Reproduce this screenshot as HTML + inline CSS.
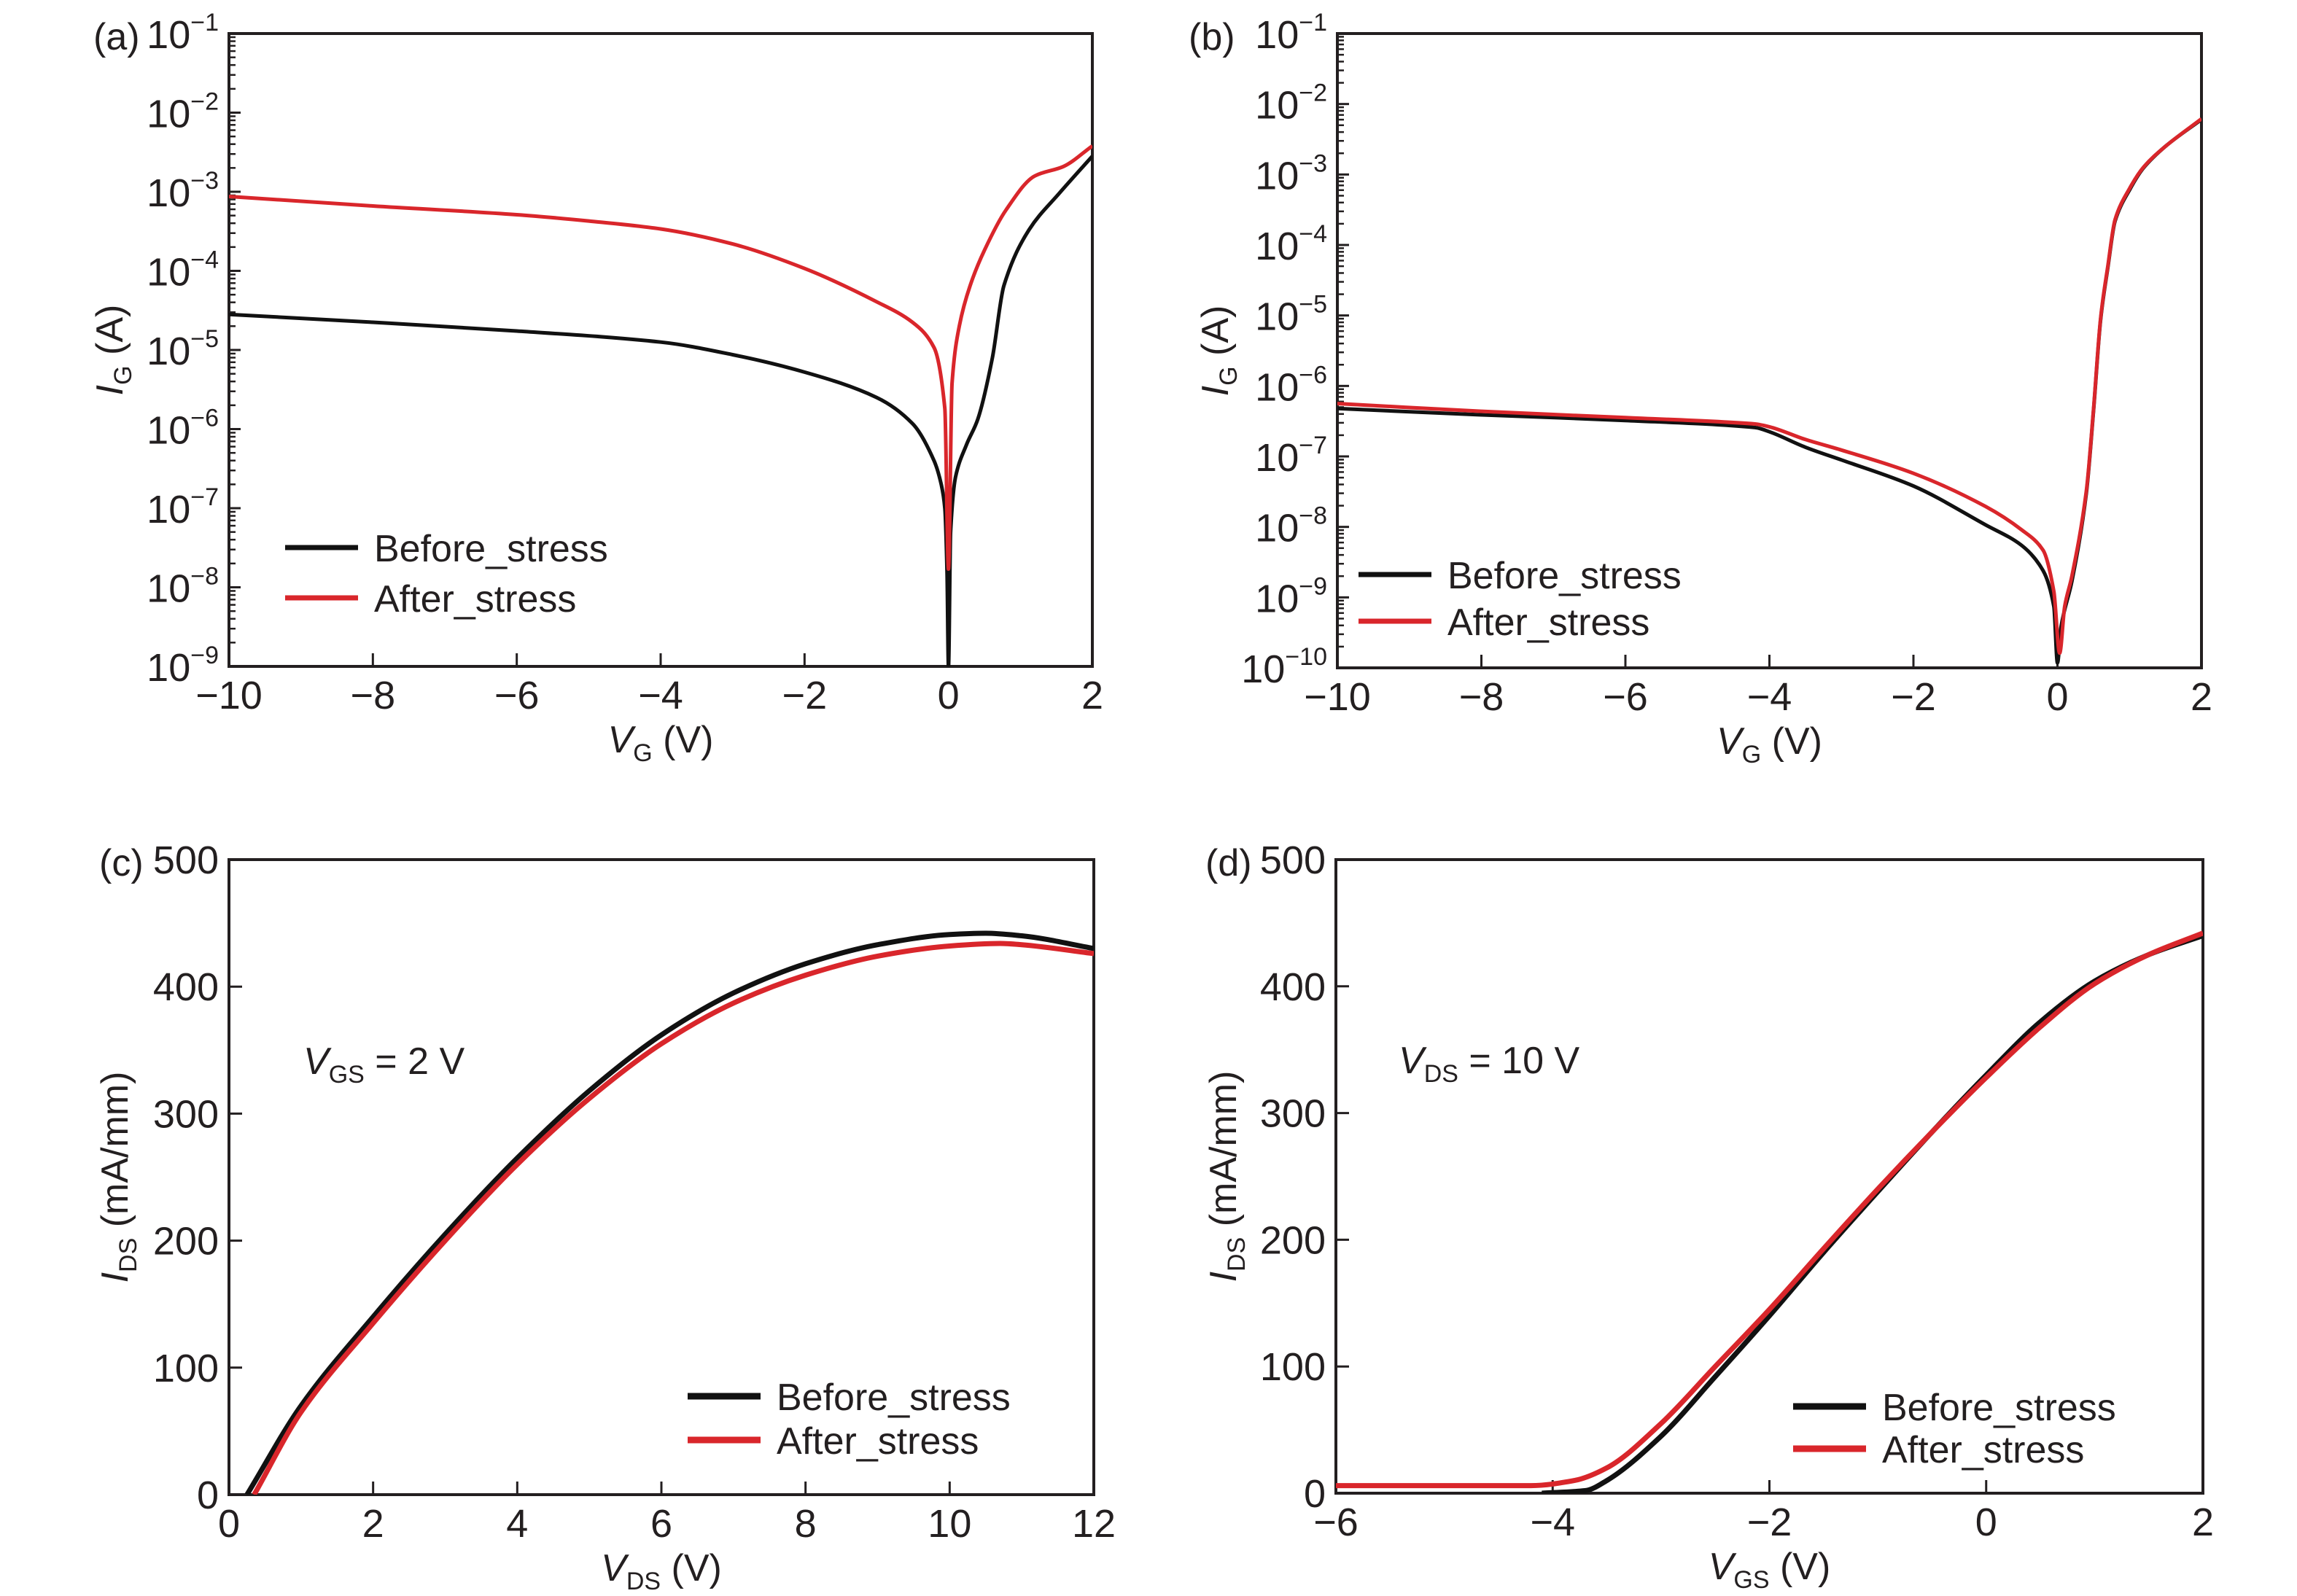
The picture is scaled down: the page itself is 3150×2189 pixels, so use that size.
<!DOCTYPE html>
<html><head><meta charset="utf-8"><title>Gate leakage and transfer/output characteristics</title>
<style>
html,body{margin:0;padding:0;background:#fff;}
svg{display:block;}
text{font-family:"Liberation Sans",sans-serif;fill:#231f20;}
</style></head>
<body>
<svg id="fig" width="3150" height="2189" viewBox="0 0 3150 2189" xmlns="http://www.w3.org/2000/svg"></svg>
<script>
// ---- Panel (a) data: gate current (log10 A) vs VG ----
const aBeforeX = [-10,-8,-6,-4,-3,-2,-1,-0.5,-0.2,-0.1,-0.05,-0.02,0,0.03,0.1,0.25,0.41,0.61,0.77,1.12,1.53,2];
const aBeforeY = [-4.55,-4.65,-4.76,-4.9,-5.06,-5.28,-5.6,-5.93,-6.4,-6.7,-7.0,-7.8,-9,-7.3,-6.6,-6.2,-5.87,-5.1,-4.19,-3.48,-3.03,-2.55];
const aAfterX = [-10,-8,-6,-5,-4,-3,-2,-1,-0.5,-0.2,-0.05,0,0.05,0.15,0.3,0.5,0.8,1.2,1.6,2];
const aAfterY = [-3.06,-3.18,-3.29,-3.37,-3.47,-3.66,-3.97,-4.39,-4.65,-4.97,-5.74,-7.77,-5.42,-4.7,-4.19,-3.74,-3.23,-2.8,-2.68,-2.42];
// ---- Panel (b) data ----
const bBeforeX = [-10,-8,-6,-4.2,-4,-3.5,-3,-2,-1,-0.5,-0.2,-0.05,0,0.05,0.2,0.4,0.5,0.6,0.7,0.8,1,1.2,1.5,2];
const bBeforeY = [-6.32,-6.41,-6.49,-6.59,-6.65,-6.87,-7.05,-7.42,-7.97,-8.26,-8.62,-9.13,-9.93,-9.42,-8.77,-7.53,-6.36,-5.05,-4.32,-3.66,-3.22,-2.9,-2.6,-2.22];
const bAfterX = [-10,-8,-6,-4.2,-4,-3.5,-3,-2,-1,-0.5,-0.2,-0.05,0.03,0.1,0.2,0.4,0.5,0.6,0.7,0.8,1,1.2,1.5,2];
const bAfterY = [-6.25,-6.36,-6.45,-6.54,-6.58,-6.76,-6.91,-7.24,-7.71,-8.04,-8.33,-8.92,-9.79,-9.13,-8.7,-7.5,-6.34,-5.03,-4.3,-3.64,-3.2,-2.89,-2.6,-2.21];
// ---- Panel (c) data: IDS (mA/mm) vs VDS ----
const cBeforeX = [0.25,1,2,3,4,5,6,7,8,9,10,10.5,11,12];
const cBeforeY = [0,70,140,205,265,318,362,395,418,433,441,442,440,430];
const cAfterX = [0.35,1,2,3,4,5,6,7,8,9,10,10.7,11,12];
const cAfterY = [0,65,135,200,260,312,355,387,409,424,432,434,433,426];
// ---- Panel (d) data: IDS vs VGS ----
const dBeforeX = [-4.1,-3.7,-3.5,-3,-2.5,-2,-1.5,-1,-0.5,0,0.5,1,1.5,2];
const dBeforeY = [0,2,10,45,92,140,190,238,285,330,372,404,425,440];
const dAfterX = [-6,-4.2,-3.8,-3.5,-3,-2.5,-2,-1.5,-1,-0.5,0,0.5,1,1.5,2];
const dAfterY = [6,6,10,20,55,100,145,193,240,285,328,368,402,425,442];
// ---- tick labels ----
const aXTicks = [-10,-8,-6,-4,-2,0,2];
const aYExps = [-1,-2,-3,-4,-5,-6,-7,-8,-9];
const bYExps = [-1,-2,-3,-4,-5,-6,-7,-8,-9,-10];
const cXTicks = [0,2,4,6,8,10,12];
const dXTicks = [-6,-4,-2,0,2];
const cdYTicks = [0,100,200,300,400,500];

const NS = "http://www.w3.org/2000/svg";
const svg = document.getElementById('fig');
const RED = "#d9262b", BLACK = "#111111";
function mk(tag, attrs, parent){
  const e = document.createElementNS(NS, tag);
  for (const k in attrs) e.setAttribute(k, attrs[k]);
  (parent || svg).appendChild(e);
  return e;
}
function fmt(v){ return v < 0 ? "\u2212" + Math.abs(v) : String(v); }
// monotone cubic path through pixel points (x increasing)
function monoPath(px, py){
  const n = px.length;
  if (n < 3) return px.map((x,i)=>(i?'L':'M')+x.toFixed(1)+','+py[i].toFixed(1)).join(' ');
  const d = [], m = new Array(n);
  for (let i=0;i<n-1;i++) d.push((py[i+1]-py[i])/(px[i+1]-px[i]));
  m[0]=d[0]; m[n-1]=d[n-2];
  for (let i=1;i<n-1;i++){
    if (d[i-1]*d[i] <= 0) m[i]=0;
    else { m[i] = 2/(1/d[i-1]+1/d[i]); }
  }
  let s = 'M'+px[0].toFixed(1)+','+py[0].toFixed(1);
  for (let i=0;i<n-1;i++){
    const h = px[i+1]-px[i];
    s += ' C'+(px[i]+h/3).toFixed(1)+','+(py[i]+m[i]*h/3).toFixed(1)+' '+(px[i+1]-h/3).toFixed(1)+','+(py[i+1]-m[i+1]*h/3).toFixed(1)+' '+px[i+1].toFixed(1)+','+py[i+1].toFixed(1);
  }
  return s;
}

function panel(P){
  const g = mk('g', {});
  
  
  const sx = v => P.x0 + (v - P.xmin) / (P.xmax - P.xmin) * (P.x1 - P.x0);
  const sy = v => P.y1 - (v - P.ymin) / (P.ymax - P.ymin) * (P.y1 - P.y0);
  const fr = mk('rect', {x:P.x0, y:P.y0, width:P.x1-P.x0, height:P.y1-P.y0, fill:'none', stroke:'#231f20', 'stroke-width':4}, g);
  
  
  P.xticks.forEach(v => {
    const X = sx(v);
    const t = mk('line', {x1:X, x2:X, y1:P.y1, y2:P.y1-18, stroke:'#231f20', 'stroke-width':3}, g);
    
    
    const l = mk('text', {x:X, y:P.y1+58, 'font-size':54, 'text-anchor':'middle'}, g);
    l.textContent = fmt(v);
    
    
  });
  if (P.log) {
    P.yexps.forEach(e => {
      const Y = sy(e);
      const t = mk('line', {x1:P.x0, x2:P.x0+16, y1:Y, y2:Y, stroke:'#231f20', 'stroke-width':3}, g);
      
      
      if (e > P.ymin) {
        for (let m = 2; m <= 9; m++) {
          const Ym = sy(e - 1 + Math.log10(m));
          const mt = mk('line', {x1:P.x0, x2:P.x0+9, y1:Ym, y2:Ym, stroke:'#231f20', 'stroke-width':2.5}, g);
          
          
        }
      }
      const l = mk('text', {x:P.x0-14, y:Y+20, 'font-size':54, 'text-anchor':'end'}, g);
      
      
      const t1 = mk('tspan', {}, l); t1.textContent = "10";
      const t2 = mk('tspan', {dy:-24, 'font-size':34}, l); t2.textContent = "\u2212" + Math.abs(e);
    });
  } else {
    P.yticks.forEach(v => {
      const Y = sy(v);
      const t = mk('line', {x1:P.x0, x2:P.x0+18, y1:Y, y2:Y, stroke:'#231f20', 'stroke-width':3}, g);
      
      
      const l = mk('text', {x:P.x0-14, y:Y+19, 'font-size':54, 'text-anchor':'end'}, g);
      l.textContent = String(v);
      
      
    });
  }
  const clip = mk('clipPath', {id:'clip-'+P.name}, g);
  mk('rect', {x:P.x0, y:P.y0, width:P.x1-P.x0, height:P.y1-P.y0}, clip);
  P.series.forEach(s => {
    const d = monoPath(s.x.map(sx), s.y.map(sy));
    const p = mk('path', {d:d, fill:'none', stroke:s.color, 'stroke-width':P.lw, 'stroke-linejoin':'round', 'clip-path':'url(#clip-'+P.name+')'}, g);
    
    
  });
  P.legend.forEach((L,i) => {
    const Y = P.legY[i];
    const ln = mk('line', {x1:P.legX, x2:P.legX+100, y1:Y, y2:Y, stroke:L.color, 'stroke-width':P.lw+2}, g);
    
    
    const tx = mk('text', {x:P.legX+122, y:Y+19, 'font-size':52}, g);
    tx.textContent = L.label;
    
    
  });
  const pl = mk('text', {x:P.letterX, y:P.y0+22, 'font-size':52}, g);
  pl.textContent = P.letter;
  
  
  const yt = mk('text', {x:0, y:0, 'font-size':52, 'text-anchor':'middle', transform:'translate('+P.ytX+','+((P.y0+P.y1)/2)+') rotate(-90)'}, g);
  
  
  const y1 = mk('tspan', {'font-style':'italic'}, yt); y1.textContent = "I";
  const y2 = mk('tspan', {'font-size':34, dy:12}, yt); y2.textContent = P.ysub;
  const y3 = mk('tspan', {dy:-12}, yt); y3.textContent = P.yunit;
  const xt = mk('text', {x:(P.x0+P.x1)/2, y:P.y1+118, 'font-size':52, 'text-anchor':'middle'}, g);
  
  
  const x1 = mk('tspan', {'font-style':'italic'}, xt); x1.textContent = "V";
  const x2 = mk('tspan', {'font-size':34, dy:12}, xt); x2.textContent = P.xsub;
  const x3 = mk('tspan', {dy:-12}, xt); x3.textContent = " (V)";
  if (P.note) {
    const nt = mk('text', {x:P.note.x, y:P.note.y, 'font-size':52}, g);
    
    
    const n1 = mk('tspan', {'font-style':'italic'}, nt); n1.textContent = "V";
    const n2 = mk('tspan', {'font-size':34, dy:12}, nt); n2.textContent = P.note.sub;
    const n3 = mk('tspan', {dy:-12}, nt); n3.textContent = P.note.text;
  }
}
const legendDef = [{key:'before', label:'Before_stress', color:BLACK},{key:'after', label:'After_stress', color:RED}];

panel({name:'panel-a', letter:'(a)', letterX:128, x0:314, x1:1498, y0:46, y1:914, xmin:-10, xmax:2, ymin:-9, ymax:-1, log:true,
  xticks:aXTicks, yexps:aYExps, lw:5, ytX:168, ysub:'G', yunit:' (A)', xsub:'G',
  series:[{name:'series-before-stress', x:aBeforeX, y:aBeforeY, color:BLACK},{name:'series-after-stress', x:aAfterX, y:aAfterY, color:RED}],
  legend:legendDef, legX:391, legY:[751,820]});
panel({name:'panel-b', letter:'(b)', letterX:1630, x0:1834, x1:3019, y0:46, y1:916, xmin:-10, xmax:2, ymin:-10, ymax:-1, log:true,
  xticks:aXTicks, yexps:bYExps, lw:5, ytX:1684, ysub:'G', yunit:' (A)', xsub:'G',
  series:[{name:'series-before-stress', x:bBeforeX, y:bBeforeY, color:BLACK},{name:'series-after-stress', x:bAfterX, y:bAfterY, color:RED}],
  legend:legendDef, legX:1863, legY:[788,852]});
panel({name:'panel-c', letter:'(c)', letterX:136, x0:314, x1:1500, y0:1179, y1:2050, xmin:0, xmax:12, ymin:0, ymax:500, log:false,
  xticks:cXTicks, yticks:cdYTicks, lw:7, ytX:175, ysub:'DS', yunit:' (mA/mm)', xsub:'DS',
  series:[{name:'series-before-stress', x:cBeforeX, y:cBeforeY, color:BLACK},{name:'series-after-stress', x:cAfterX, y:cAfterY, color:RED}],
  legend:legendDef, legX:943, legY:[1915,1975], note:{x:416, y:1473, sub:'GS', text:' = 2 V'}});
panel({name:'panel-d', letter:'(d)', letterX:1653, x0:1832, x1:3021, y0:1179, y1:2048, xmin:-6, xmax:2, ymin:0, ymax:500, log:false,
  xticks:dXTicks, yticks:cdYTicks, lw:7, ytX:1695, ysub:'DS', yunit:' (mA/mm)', xsub:'GS',
  series:[{name:'series-before-stress', x:dBeforeX, y:dBeforeY, color:BLACK},{name:'series-after-stress', x:dAfterX, y:dAfterY, color:RED}],
  legend:legendDef, legX:2459, legY:[1929,1987], note:{x:1918, y:1472, sub:'DS', text:' = 10 V'}});
</script>
</body></html>
